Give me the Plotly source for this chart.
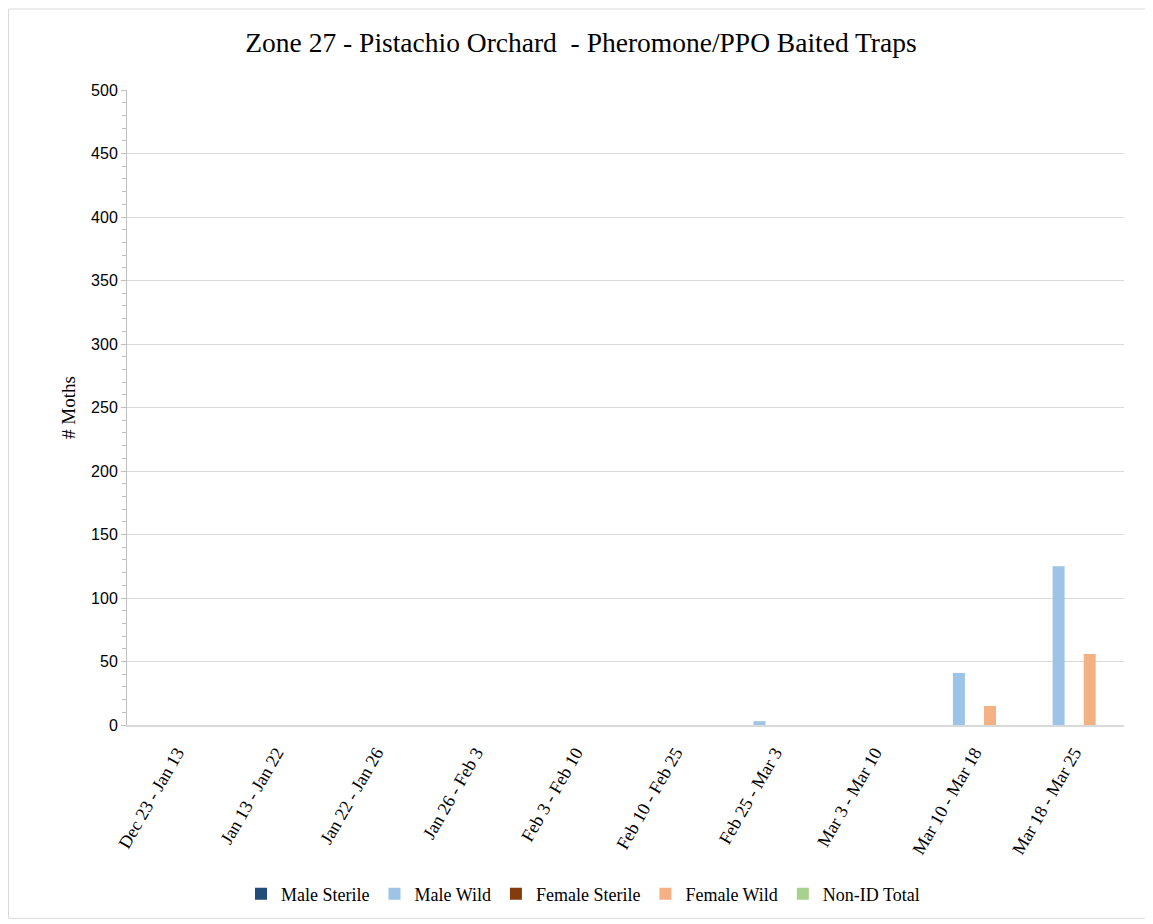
import plotly.graph_objects as go

# trap reporting periods
periods = ['Dec 23 - Jan 13', 'Jan 13 - Jan 22', 'Jan 22 - Jan 26', 'Jan 26 - Feb 3',
           'Feb 3 - Feb 10', 'Feb 10 - Feb 25', 'Feb 25 - Mar 3', 'Mar 3 - Mar 10',
           'Mar 10 - Mar 18', 'Mar 18 - Mar 25']

male_sterile = [0, 0, 0, 0, 0, 0, 0, 0, 0, 0]
male_wild = [0, 0, 0, 0, 0, 0, 3, 0, 41, 125]
female_sterile = [0, 0, 0, 0, 0, 0, 0, 0, 0, 0]
female_wild = [0, 0, 0, 0, 0, 0, 0, 0, 15, 56]
non_id_total = [0, 0, 0, 0, 0, 0, 0, 0, 0, 0]

series = [
    ('Male Sterile', male_sterile, '#1f4e79'),
    ('Male Wild', male_wild, '#9dc3e6'),
    ('Female Sterile', female_sterile, '#843c0c'),
    ('Female Wild', female_wild, '#f4b183'),
    ('Non-ID Total', non_id_total, '#a9d18e'),
]

fig = go.Figure()
for name, vals, col in series:
    fig.add_trace(go.Bar(x=periods, y=vals, name=name, marker=dict(color=col, line=dict(width=0))))

serif = 'Liberation Serif, Times New Roman, serif'
sans = 'Liberation Sans, Arial, sans-serif'

# page body has an 8px margin, so the figure is a bit smaller than the window
W, H = 1145, 916
L, R, T, B = 119, 29, 82, 195
pw, ph = W - L - R, H - T - B

fig.update_layout(
    width=W, height=H,
    margin=dict(l=L, r=R, t=T, b=B),
    paper_bgcolor='white', plot_bgcolor='white',
    barmode='group', bargap=0.22, bargroupgap=0.23,
    title=dict(text='Zone 27 - Pistachio Orchard  - Pheromone/PPO Baited Traps',
               xref='container', x=573 / W, xanchor='center', y=1 - 34 / H, yanchor='middle',
               font=dict(family=serif, size=27.5, color='black')),
    font=dict(family=serif, color='black'),
    legend=dict(orientation='h', x=(575 - L) / pw, xanchor='center',
                y=-170 / ph, yanchor='middle',
                font=dict(family=serif, size=18, color='black'),
                itemwidth=30, tracegroupgap=0),
    xaxis=dict(tickangle=-60, tickfont=dict(family=serif, size=18, color='black'),
               ticklabelstandoff=8,
               showline=True, linecolor='#d9d9d9', linewidth=2, ticks=''),
    yaxis=dict(range=[0, 500], dtick=50, showgrid=True, gridcolor='#d9d9d9', gridwidth=1,
               showline=True, linecolor='#bfbfbf', linewidth=1, zeroline=False,
               ticks='outside', ticklen=5, tickcolor='#bfbfbf',
               minor=dict(ticks='outside', dtick=10, ticklen=4, tickcolor='#bfbfbf', showgrid=False),
               tickfont=dict(family=sans, size=16, color='black'),
               title=dict(text='# Moths', font=dict(family=serif, size=19, color='black'), standoff=10)),
)

# light border round the chart area
fig.add_shape(type='rect', xref='paper', yref='paper',
              x0=(0.5 - L) / pw, x1=(W - 0.5 - L) / pw,
              y0=(ph + T - H + 0.5) / ph, y1=(ph + T - 0.5) / ph,
              line=dict(color='#d9d9d9', width=1), layer='below')

fig.write_html('out.html')
